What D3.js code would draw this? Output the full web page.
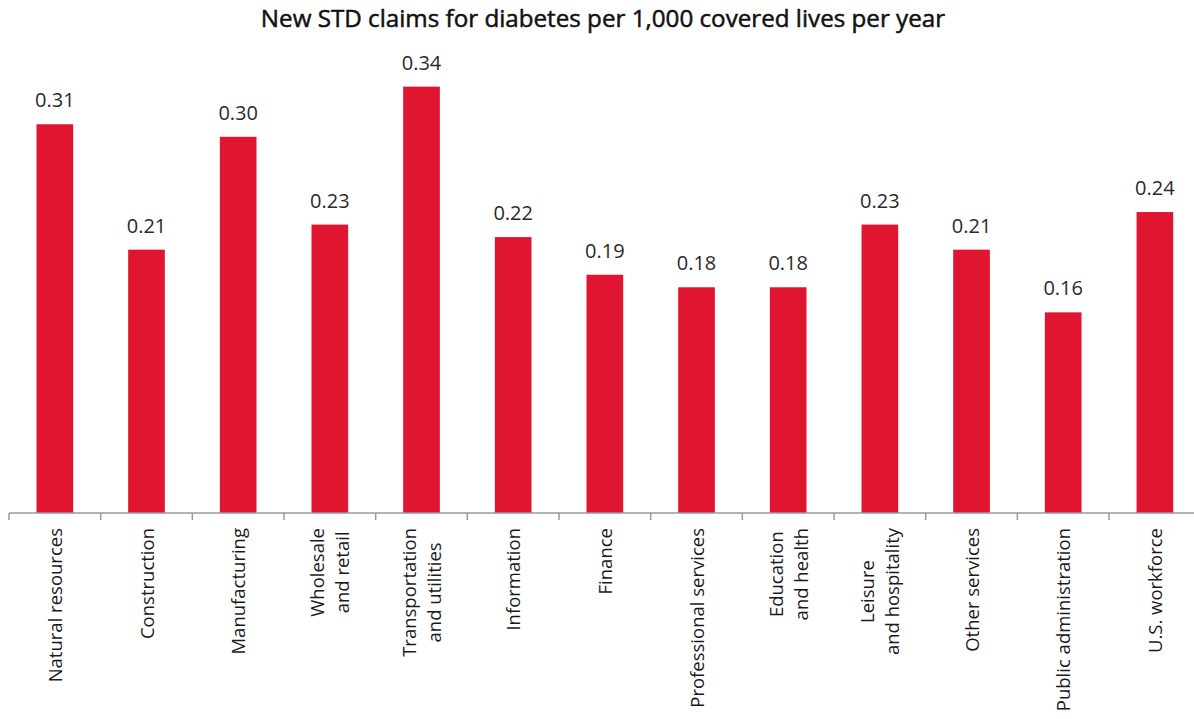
<!DOCTYPE html>
<html>
<head>
<meta charset="utf-8">
<script src="https://cdn.jsdelivr.net/npm/d3@7"></script>
<style>
  html, body { margin: 0; padding: 0; background: #fff; }
  svg { display: block; }
</style>
</head>
<body>
<svg id="chart" width="1194" height="719"></svg>
<script>
// Industry categories ("\n" splits a label over two lines)
const categories = [
  "Natural resources",
  "Construction",
  "Manufacturing",
  "Wholesale\nand retail",
  "Transportation\nand utilities",
  "Information",
  "Finance",
  "Professional services",
  "Education\nand health",
  "Leisure\nand hospitality",
  "Other services",
  "Public administration",
  "U.S. workforce"
];

// New STD claims for diabetes per 1,000 covered lives per year
const claimsPer1000 = [0.31, 0.21, 0.30, 0.23, 0.34, 0.22, 0.19, 0.18, 0.18, 0.23, 0.21, 0.16, 0.24];

const titleText = "New STD claims for diabetes per 1,000 covered lives per year";

const W = 1194, H = 719;
const baseY = 513;
const svg = d3.select("#chart");

const x = d3.scaleBand()
  .domain(categories)
  .range([9, 9 + 91.67 * categories.length])
  .paddingInner(0.6)
  .paddingOuter(0.3);

const y = d3.scaleLinear()
  .domain([0, 0.4])
  .range([baseY, baseY - 0.4 * 1254]);

// Title (thin stroke gives a medium weight)
svg.append("text")
  .attr("x", 603)
  .attr("y", 27)
  .attr("text-anchor", "middle")
  .attr("font-family", "'Open Sans', sans-serif")
  .attr("font-weight", 400)
  .attr("font-size", 24.2)
  .attr("fill", "#111")
  .attr("stroke", "#111")
  .attr("stroke-width", 0.5)
  .text(titleText);

// Bars
const data = categories.map((c, i) => ({ c, v: claimsPer1000[i] }));

svg.append("g").selectAll("rect")
  .data(data)
  .join("rect")
  .attr("x", d => x(d.c))
  .attr("width", x.bandwidth())
  .attr("y", d => y(d.v))
  .attr("height", d => y(0) - y(d.v))
  .attr("fill", "#e01530");

// Value labels
svg.append("g").selectAll("text")
  .data(data)
  .join("text")
  .attr("x", d => x(d.c) + x.bandwidth() / 2)
  .attr("y", d => y(d.v) - 17)
  .attr("text-anchor", "middle")
  .attr("font-family", "'Open Sans', sans-serif")
  .attr("font-size", 20)
  .attr("fill", "#2a2a2a")
  .text(d => d3.format(".2f")(d.v));

// Baseline axis with ticks between categories
const axisG = svg.append("g").attr("stroke", "#9a9a9a").attr("stroke-width", 1.5);
const step = x.step();
const r0 = x.range()[0];
axisG.append("line")
  .attr("x1", r0).attr("x2", W)
  .attr("y1", baseY).attr("y2", baseY);
axisG.selectAll("line.tick")
  .data(d3.range(categories.length + 1))
  .join("line")
  .attr("class", "tick")
  .attr("x1", i => r0 + i * step)
  .attr("x2", i => r0 + i * step)
  .attr("y1", baseY)
  .attr("y2", baseY + 7);

// Rotated category labels, lines centred within each block
const lineGap = 25;
const labelTop = 528;
const labels = svg.append("g")
  .attr("font-family", "'Open Sans', sans-serif")
  .attr("font-size", 18.5)
  .attr("fill", "#1a1a1a");

categories.forEach(c => {
  const lines = c.split("\n");
  const g = labels.append("g");
  const texts = lines.map((ln, j) =>
    g.append("text")
      .attr("text-anchor", "middle")
      .attr("x", 0)
      .attr("y", (j - (lines.length - 1) / 2) * lineGap + 7)
      .text(ln)
  );
  const maxLen = d3.max(texts, t => t.node().getComputedTextLength());
  const cx = x(c) + x.bandwidth() / 2;
  g.attr("transform", `translate(${cx},${labelTop + maxLen / 2}) rotate(-90)`);
});
</script>
</body>
</html>
